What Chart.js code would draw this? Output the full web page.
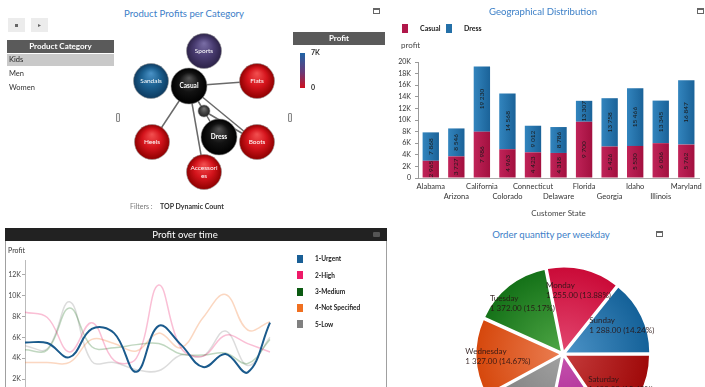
<!DOCTYPE html>
<html><head><meta charset="utf-8">
<script src="https://cdn.jsdelivr.net/npm/chart.js@4.4.0/dist/chart.umd.min.js"></script>
<style>
html,body{margin:0;padding:0;width:705px;height:387px;overflow:hidden;background:#fff;font-family:Lato,"Open Sans",sans-serif;}
.a{position:absolute;white-space:nowrap;}
.b{position:absolute;box-sizing:border-box;}
canvas{position:absolute;}
</style></head><body>
<canvas id="net" width="170" height="180" style="left:120px;top:25px;width:170px;height:180px"></canvas>
<canvas id="bar" width="315" height="170" style="left:390px;top:50px;width:315px;height:170px"></canvas>
<canvas id="line" width="275" height="170" style="left:5px;top:244px;width:275px;height:170px"></canvas>
<canvas id="pie" width="320" height="220" style="left:403px;top:244px;width:320px;height:220px"></canvas>
<script>
// ---------- DATA ----------
const categories = ['Kids', 'Men', 'Women'];
const nodeNames = ['Sports', 'Sandals', 'Casual', 'Flats', '', 'Heels', 'Dress', 'Boots', 'Accessories'];
const nodeX = [84, 31, 69, 137, 84, 32, 99, 137, 84];
const nodeY = [26, 56, 61, 56, 86, 117, 112, 117, 147];
const nodeSize = [17.5, 17.5, 18, 17.5, 6, 17.5, 18, 17.5, 17.5];
const links = [[2,3],[2,5],[2,8],[2,4],[4,6],[2,7],[4,7]];

const states = ['Alabama','Arizona','California','Colorado','Connecticut','Delaware','Florida','Georgia','Idaho','Illinois','Maryland'];
const casualProfit = [2965, 3727, 7986, 4963, 4423, 4318, 9700, 5426, 5530, 6006, 5762];
const dressProfit  = [4903, 4819, 11244, 9605, 4589, 4468, 3607, 8332, 9936, 7339, 11085];
const barTicks = [0, 2000, 4000, 6000, 8000, 10000, 12000, 14000, 16000, 18000, 20000];

const months = ['Jan','Feb','Mar','Apr','May','Jun','Jul','Aug','Sep','Oct','Nov','Dec'];
const urgent      = [5500, 5450, 4100, 6800, 6400, 2700, 7100, 5300, 3150, 4400, 2650, 7400];
const high        = [8400, 7900, 4600, 7400, 3800, 4000, 11000, 5000, 4200, 6200, 5400, 4600];
const medium      = [4800, 4800, 8800, 5100, 5000, 5300, 5400, 4400, 4300, 4500, 3500, 5800];
const notSpecified= [3600, 3600, 3600, 5800, 5400, 4700, 6400, 5000, 7900, 10100, 6700, 7500];
const low         = [5200, 4900, 9400, 3700, 3600, 2900, 2800, 4300, 4200, 6600, 3300, 6000];
const lineTicks = [0, 2000, 4000, 6000, 8000, 10000, 12000];
const priorities = ['1-Urgent','2-High','3-Medium','4-Not Specified','5-Low'];

const weekdays = ['Saturday','Friday','Thursday','Wednesday','Tuesday','Monday','Sunday'];
const orderQty = [1400, 1150, 1253, 1327, 1372, 1255, 1288];

// ---------- HTML helpers ----------
function T(txt, x, y, o) {
  o = o || {};
  const d = document.createElement('div'); d.className = 'a'; d.textContent = txt;
  const fs = o.fs || 8; d.style.fontSize = fs + 'px'; d.style.lineHeight = (fs * 1.4) + 'px';
  d.style.top = (y - fs * 0.7) + 'px'; d.style.color = o.c || '#333';
  if (o.b) d.style.fontWeight = 'bold';
  if (o.align === 'center') { d.style.left = (x - 150) + 'px'; d.style.width = '300px'; d.style.textAlign = 'center'; }
  else d.style.left = x + 'px';
  document.body.appendChild(d);
}
function B(x, y, w, h, st) {
  const d = document.createElement('div'); d.className = 'b';
  d.style.cssText += ';left:' + x + 'px;top:' + y + 'px;width:' + w + 'px;height:' + h + 'px;' + (st || '');
  document.body.appendChild(d);
}
const titleBlue = '#3d80c8';
// top-left panel
T('Product Profits per Category', 184, 14, {fs:9.6, c:titleBlue, align:'center'});
B(373, 8, 7, 6, 'border:1px solid #666;border-top-width:2px');
B(8, 18, 17, 14, 'background:#ececec');
B(15, 24, 3, 3, 'background:#666');
B(31, 18, 17, 14, 'background:#ececec');
T('\u25B8', 39, 25, {fs:6, c:'#666', align:'center'});
B(7, 40, 107, 13, 'background:#5a5a5a');
T('Product Category', 60.5, 46.5, {fs:8, c:'#fff', b:true, align:'center'});
B(7, 54, 107, 12, 'background:#c9c9c9');
T(categories[0], 9, 60, {fs:7.5, c:'#222'});
T(categories[1], 9, 74, {fs:7.5, c:'#333'});
T(categories[2], 9, 88, {fs:7.5, c:'#333'});
B(116, 113, 4, 9, 'border:1px solid #888;border-radius:1px;background:#eee');
B(288, 113, 4, 9, 'border:1px solid #888;border-radius:1px;background:#eee');
B(293, 32, 92, 13, 'background:#5a5a5a');
T('Profit', 339, 38.5, {fs:8, c:'#fff', b:true, align:'center'});
B(300, 53, 5, 35, 'background:linear-gradient(#1f64a6,#6a3a78 55%,#d0101e)');
T('7K', 311, 53, {fs:7, b:true, c:'#333'});
T('0', 311, 88, {fs:7, b:true, c:'#333'});
T('Filters :', 130, 207, {fs:7, c:'#777'});
T('TOP  Dynamic Count', 160, 207, {fs:7, b:true, c:'#333'});
// top-right panel
T('Geographical Distribution', 543, 12, {fs:9.6, c:titleBlue, align:'center'});
B(697, 8, 7, 6, 'border:1px solid #666;border-top-width:2px');
B(402, 24, 6, 9, 'background:#b0174a');
T('Casual', 420, 29, {fs:7, b:true, c:'#222'});
B(446, 24, 6, 9, 'background:#2470a8');
T('Dress', 464, 29, {fs:7, b:true, c:'#222'});
T('profit', 401, 46, {fs:8, c:'#444'});
// bottom-left panel
B(5, 228, 382, 170, 'border:1px solid #a0a0a0');
B(5, 228, 382, 13, 'background:#222');
T('Profit over time', 185, 234.5, {fs:9.6, c:'#fff', align:'center'});
B(373, 232, 7, 5, 'background:#555;border-radius:1px');
T('Profit', 8, 251, {fs:7, c:'#333'});
const prioColors = ['#1a5f96', '#ee1a68', '#0b5a12', '#f07020', '#808080'];
priorities.forEach((p, i) => {
  const cy = 259 + i * 16.3;
  B(297, cy - 4, 6, 8, 'background:' + prioColors[i]);
  T(p, 315, cy, {fs:6.5, b:true, c:'#222'});
});
// bottom-right panel
T('Order quantity per weekday', 551, 235, {fs:9.6, c:titleBlue, align:'center'});
B(656, 231, 7, 6, 'border:1px solid #666;border-top-width:2px');

Chart.defaults.font.family = "Lato, 'Open Sans', sans-serif";
const fmt = v => String(v).replace(/\B(?=(\d{3})+(?!\d))/g, ' ');

// ---------- Network (bubble) ----------
const nodeStyle = [
  ['#7a6ea6','#4a3d72','#2c2248'], ['#4a92c6','#1b5f8f','#0e3b60'], ['#555','#121212','#000'],
  ['#f25050','#d4141c','#8e0000'], ['#777','#444','#222'], ['#f25050','#d4141c','#8e0000'],
  ['#555','#121212','#000'], ['#f25050','#d4141c','#8e0000'], ['#f25050','#d4141c','#8e0000']
];
function bubbleGrad(c) {
  const ch = c.chart, i = c.dataIndex;
  if (!ch.chartArea || !ch.scales.x) return nodeStyle[i][1];
  const x = ch.scales.x.getPixelForValue(nodeX[i]), y = ch.scales.y.getPixelForValue(nodeY[i]), r = nodeSize[i];
  const g = ch.ctx.createRadialGradient(x, y - r * 0.45, 0, x, y, r);
  g.addColorStop(0, nodeStyle[i][0]); g.addColorStop(0.55, nodeStyle[i][1]); g.addColorStop(1, nodeStyle[i][2]);
  return g;
}
const netPlugin = {
  id: 'net',
  beforeDatasetsDraw(ch) {
    const ctx = ch.ctx, sx = ch.scales.x, sy = ch.scales.y;
    ctx.save(); ctx.strokeStyle = '#6a6a6a'; ctx.lineWidth = 1.5;
    links.forEach(([a, b]) => {
      ctx.beginPath();
      ctx.moveTo(sx.getPixelForValue(nodeX[a]), sy.getPixelForValue(nodeY[a]));
      ctx.lineTo(sx.getPixelForValue(nodeX[b]), sy.getPixelForValue(nodeY[b]));
      ctx.stroke();
    });
    ctx.restore();
  },
  afterDatasetsDraw(ch) {
    const ctx = ch.ctx; ctx.save();
    ctx.fillStyle = '#fff'; ctx.textAlign = 'center'; ctx.textBaseline = 'middle';
    ch.getDatasetMeta(0).data.forEach((el, i) => {
      const name = nodeNames[i]; if (!name) return;
      const bold = (name === 'Casual' || name === 'Dress');
      ctx.font = (bold ? 'bold ' : '') + "6.5px Lato";
      if (name === 'Accessories') { ctx.fillText('Accessori', el.x, el.y - 4); ctx.fillText('es', el.x, el.y + 4); }
      else ctx.fillText(name, el.x, el.y);
    });
    ctx.restore();
  }
};
new Chart(document.getElementById('net'), {
  type: 'bubble',
  data: { datasets: [{ data: nodeX.map((x, i) => ({x: x, y: nodeY[i], r: nodeSize[i]})),
    backgroundColor: bubbleGrad, borderColor: 'rgba(150,150,150,0.55)', borderWidth: 1, clip: false }] },
  options: { responsive: false, animation: false, events: [], layout: {padding: 0, autoPadding: false},
    plugins: {legend: {display: false}, tooltip: {enabled: false}},
    scales: { x: {display: false, min: 0, max: 170}, y: {display: false, min: 0, max: 180, reverse: true} } },
  plugins: [netPlugin]
});

// ---------- Bar chart ----------
function barGrad(c1, c2) {
  return c => {
    const ch = c.chart;
    if (!ch.chartArea || !ch.scales.x) return c1;
    const x = ch.scales.x.getPixelForValue(c.dataIndex);
    const g = ch.ctx.createLinearGradient(x - 8, 0, x + 8, 0);
    g.addColorStop(0, c1); g.addColorStop(1, c2); return g;
  };
}
const barLabels = {
  id: 'barLabels',
  afterDatasetsDraw(ch) {
    const ctx = ch.ctx; ctx.save();
    ctx.font = "6.5px Lato"; ctx.fillStyle = '#1a1a1a'; ctx.textAlign = 'center'; ctx.textBaseline = 'middle';
    [0, 1].forEach(di => {
      ch.getDatasetMeta(di).data.forEach((bar, i) => {
        const val = di === 0 ? casualProfit[i] : casualProfit[i] + dressProfit[i];
        ctx.save(); ctx.translate(bar.x, (bar.y + bar.base) / 2); ctx.rotate(-Math.PI / 2);
        ctx.fillText(fmt(val), 0, 0); ctx.restore();
      });
    });
    ctx.restore();
  }
};
new Chart(document.getElementById('bar'), {
  type: 'bar',
  data: { labels: states, datasets: [
    { label: 'Casual', data: casualProfit, backgroundColor: barGrad('#bf2358', '#a3103f'), stack: 's' },
    { label: 'Dress', data: dressProfit, backgroundColor: barGrad('#3284bd', '#1b6399'), stack: 's' } ] },
  options: { responsive: false, animation: false, events: [],
    layout: { padding: {top: 12, right: 4, left: 0, bottom: 0} },
    datasets: { bar: { categoryPercentage: 1, barPercentage: 0.64, borderWidth: 0 } },
    plugins: { legend: {display: false}, tooltip: {enabled: false} },
    scales: {
      x: { stacked: true, grid: {display: false, drawTicks: false}, border: {color: '#aaa'},
        ticks: { autoSkip: false, maxRotation: 0, minRotation: 0, padding: 3, color: '#333', font: {size: 7.5, lineHeight: 1.4},
          callback: (v, i) => i % 2 ? ['', states[i]] : [states[i]] },
        title: { display: true, text: 'Customer State', color: '#444', font: {size: 8}, padding: {top: 3, bottom: 2} },
        afterFit: s => { s.height = 42; } },
      y: { stacked: true, min: 0, max: 20000, afterBuildTicks: s => { s.ticks = barTicks.map(v => ({value: v})); },
        ticks: { color: '#333', font: {size: 7}, padding: 4, callback: v => v === 0 ? '0' : (v / 1000) + 'K' },
        grid: { drawOnChartArea: false, tickLength: 3, color: '#999' }, border: {color: '#999'},
        afterFit: s => { s.width = 28; } }
    } },
  plugins: [barLabels]
});

// ---------- Line chart ----------
const faded = a => 'rgba(' + a + ',0.28)';
new Chart(document.getElementById('line'), {
  type: 'line',
  data: { labels: months, datasets: [
    { label: priorities[0], data: urgent, borderColor: '#1a5a8c', borderWidth: 2 },
    { label: priorities[1], data: high, borderColor: faded('238,26,104'), borderWidth: 1.5 },
    { label: priorities[2], data: medium, borderColor: faded('30,110,30'), borderWidth: 1.5 },
    { label: priorities[3], data: notSpecified, borderColor: faded('240,112,32'), borderWidth: 1.5 },
    { label: priorities[4], data: low, borderColor: faded('128,128,128'), borderWidth: 1.5 } ] },
  options: { responsive: false, animation: false, events: [],
    layout: { padding: {top: 16, right: 10, bottom: 14, left: 0} },
    elements: { point: {radius: 0}, line: {tension: 0.4, fill: false} },
    plugins: { legend: {display: false}, tooltip: {enabled: false} },
    scales: {
      x: { display: false },
      y: { min: 0, max: 13400, afterBuildTicks: s => { s.ticks = lineTicks.map(v => ({value: v})); },
        ticks: { color: '#444', font: {size: 7}, padding: 1, callback: v => v === 0 ? '0' : (v / 1000) + 'K' },
        grid: { drawOnChartArea: false, tickLength: 3, color: '#aaa' }, border: {color: '#bbb'},
        afterFit: s => { s.width = 20; } }
    } }
});

// ---------- Pie chart ----------
const pieLight = ['#c43a3a', '#c450ac', '#a0a0a0', '#ea7c50', '#4da544', '#e2456e', '#4b92c6'];
const pieDark  = ['#980000', '#9e1486', '#757575', '#d23e00', '#0a6810', '#c6002e', '#0a5890'];
function pieGrad(c) {
  const ch = c.chart, i = c.dataIndex;
  if (!ch.chartArea) return pieDark[i];
  const a = ch.chartArea, cx = (a.left + a.right) / 2, cy = (a.top + a.bottom) / 2;
  const g = ch.ctx.createRadialGradient(cx, cy, 0, cx, cy, 98);
  g.addColorStop(0, pieLight[i]); g.addColorStop(1, pieDark[i]); return g;
}
const pieLabels = {
  id: 'pieLabels',
  afterDatasetsDraw(ch) {
    const ctx = ch.ctx, meta = ch.getDatasetMeta(0);
    const total = orderQty.reduce((s, v) => s + v, 0);
    ctx.save(); ctx.font = "8px Lato"; ctx.fillStyle = 'rgba(40,20,20,0.9)'; ctx.textBaseline = 'middle'; ctx.textAlign = 'left';
    meta.data.forEach((arc, i) => {
      const mid = (arc.startAngle + arc.endAngle) / 2;
      const d = arc.outerRadius * 0.6 + 16;
      const x = arc.x + Math.cos(mid) * d, y = arc.y + Math.sin(mid) * d;
      const l1 = weekdays[i];
      const l2 = fmt(orderQty[i]) + '.00 (' + (orderQty[i] / total * 100).toFixed(2) + '%)';
      const w = Math.max(ctx.measureText(l1).width, ctx.measureText(l2).width);
      ctx.fillText(l1, x - w / 2, y - 5);
      ctx.fillText(l2, x - w / 2, y + 5);
    });
    ctx.restore();
  }
};
new Chart(document.getElementById('pie'), {
  type: 'pie',
  data: { labels: weekdays, datasets: [{ data: orderQty, backgroundColor: pieGrad, borderWidth: 0, offset: 15, radius: 82 }] },
  options: { responsive: false, animation: false, events: [], rotation: 90, layout: {padding: 0},
    plugins: { legend: {display: false}, tooltip: {enabled: false} } },
  plugins: [pieLabels]
});
</script>
</body></html>
